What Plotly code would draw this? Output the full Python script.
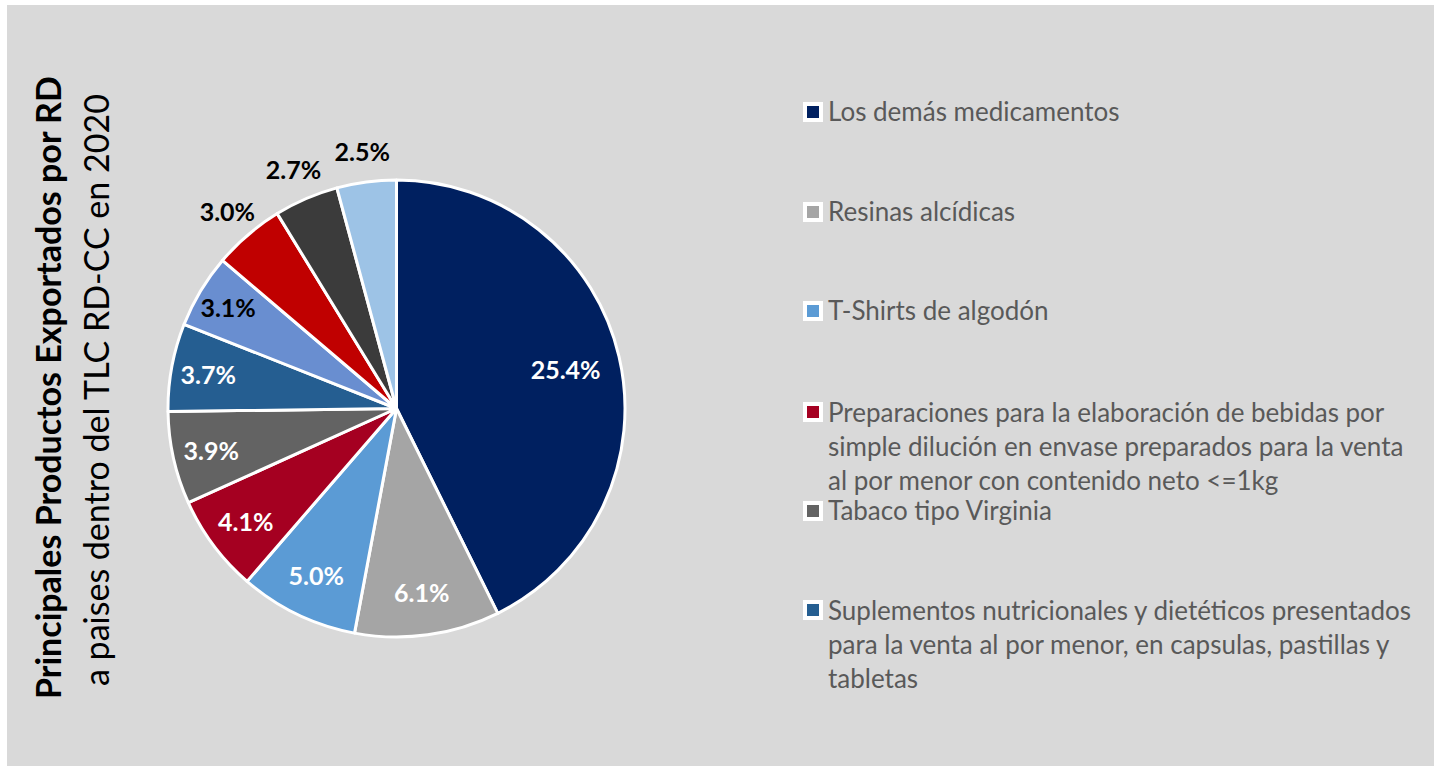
import plotly.graph_objects as go

W, H = 1442, 766

# ---- data ----
labels = [
    "Los demás medicamentos",
    "Resinas alcídicas",
    "T-Shirts de algodón",
    "Preparaciones para la elaboración de bebidas por simple dilución en envase preparados para la venta al por menor con contenido neto <=1kg",
    "Tabaco tipo Virginia",
    "Suplementos nutricionales y dietéticos presentados para la venta al por menor, en capsulas, pastillas y tabletas",
    "Producto 7",
    "Producto 8",
    "Producto 9",
    "Producto 10",
]
values = [25.4, 6.1, 5.0, 4.1, 3.9, 3.7, 3.1, 3.0, 2.7, 2.5]
colors = ["#002060", "#A5A5A5", "#5B9BD5", "#A50021", "#636363",
          "#255E91", "#698ED0", "#C00000", "#3B3B3B", "#9DC3E6"]
inside_text_colors = ["white"] * 6 + ["black"] * 4
n_inside = 7  # first 7 labels inside the pie, last 3 outside

legend_text = [
    "Los demás medicamentos",
    "Resinas alcídicas",
    "T-Shirts de algodón",
    "Preparaciones para la elaboración de bebidas por<br>simple dilución en envase preparados para la venta<br>al por menor con contenido neto <=1kg",
    "Tabaco tipo Virginia",
    "Suplementos nutricionales y dietéticos presentados<br>para la venta al por menor, en capsulas, pastillas y<br>tabletas",
]
legend_y_px = [111, 211, 310, 446, 510, 644]   # centre of each text block
legend_sq_px = [112, 212, 311, 412, 511, 610]  # centre of each square

FONT = "Lato"
CX, CY, R = 396.5, 408.5, 228.5


def px(x):
    return x / W


def py(y):
    return 1 - y / H


def dom(r):
    return dict(x=[px(CX - r), px(CX + r)], y=[py(CY + r), py(CY - r)])


fmt = [f"{v:.1f}%" for v in values]
big_txt = [t if i == 0 else "" for i, t in enumerate(fmt)]
small_txt = [t if 0 < i < n_inside else "" for i, t in enumerate(fmt)]
outside_txt = [t if i >= n_inside else "" for i, t in enumerate(fmt)]
clear = ["rgba(0,0,0,0)"] * len(values)


def label_ring(text, hole, radius, color):
    return go.Pie(
        labels=labels, values=values, sort=False, direction="clockwise", rotation=0,
        hole=hole,
        marker=dict(colors=clear, line=dict(width=0)),
        text=text, texttemplate="<b>%{text}</b>", textposition="inside",
        insidetextorientation="horizontal",
        insidetextfont=dict(family=FONT, size=25, color=color),
        hoverinfo="skip", showlegend=False,
        domain=dom(radius),
    )


fig = go.Figure()
# the pie itself
fig.add_trace(go.Pie(
    labels=labels, values=values, sort=False, direction="clockwise", rotation=0,
    marker=dict(colors=colors, line=dict(color="white", width=3)),
    textinfo="none", hoverinfo="label+value", showlegend=False,
    domain=dom(R),
))
# value labels (transparent rings carrying the text)
fig.add_trace(label_ring(big_txt, 0.52, R, inside_text_colors))
fig.add_trace(label_ring(small_txt, 0.62, R, inside_text_colors))
R_OUT = 292
fig.add_trace(label_ring(outside_txt, R / R_OUT, R_OUT, "black"))

shapes = [dict(type="rect", xref="paper", yref="paper",
               x0=px(7), x1=px(1434), y0=0, y1=py(5),
               fillcolor="#D9D9D9", line=dict(width=0), layer="below")]
annotations = []
for txt, yc, ys, col in zip(legend_text, legend_y_px, legend_sq_px, colors):
    shapes.append(dict(type="rect", xref="paper", yref="paper",
                       x0=px(803), x1=px(823), y0=py(ys + 10), y1=py(ys - 10),
                       fillcolor="white", line=dict(width=0)))
    shapes.append(dict(type="rect", xref="paper", yref="paper",
                       x0=px(807), x1=px(819), y0=py(ys + 6), y1=py(ys - 6),
                       fillcolor=col, line=dict(width=0)))
    annotations.append(dict(text=txt, xref="paper", yref="paper",
                            x=px(826), y=py(yc), xanchor="left", yanchor="middle",
                            align="left", showarrow=False,
                            font=dict(family=FONT, size=26, color="#595959")))

annotations.append(dict(text="<b>Principales Productos Exportados por RD</b>",
                        xref="paper", yref="paper", x=px(47), y=py(388),
                        xanchor="center", yanchor="middle", textangle=-90,
                        showarrow=False, font=dict(family=FONT, size=34, color="black")))
annotations.append(dict(text="a paises dentro del TLC RD-CC en 2020",
                        xref="paper", yref="paper", x=px(95), y=py(390),
                        xanchor="center", yanchor="middle", textangle=-90,
                        showarrow=False, font=dict(family=FONT, size=34, color="black")))

fig.update_layout(
    width=W, height=H,
    margin=dict(l=0, r=0, t=0, b=0),
    paper_bgcolor="white",
    plot_bgcolor="white",
    shapes=shapes,
    annotations=annotations,
    font=dict(family=FONT),
)

fig.write_html("out.html",
               config={"displayModeBar": False},
               post_script="document.body.style.margin='0';document.body.style.padding='0';")
